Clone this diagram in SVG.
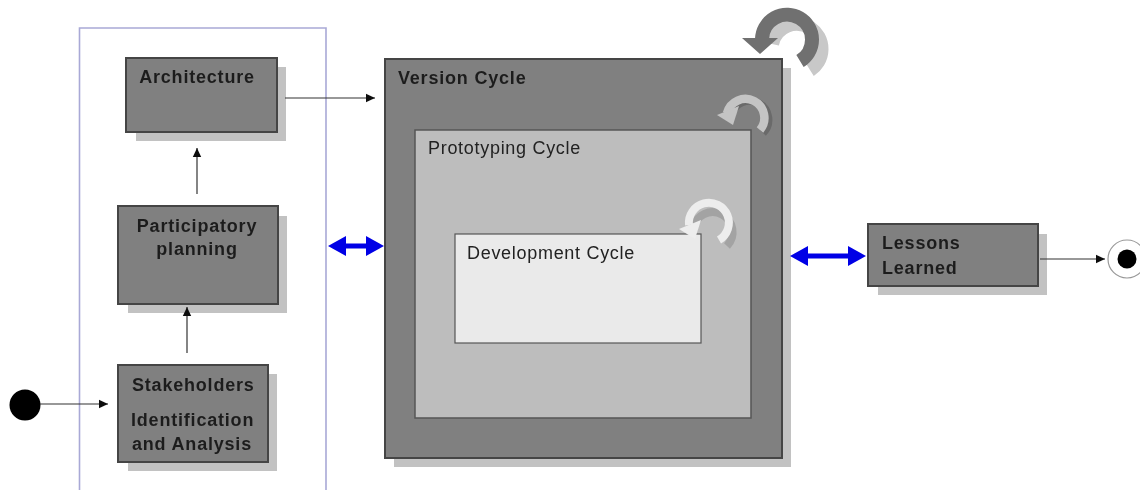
<svg xmlns="http://www.w3.org/2000/svg" width="1140" height="490" viewBox="0 0 1140 490">
<style>
.dark{fill:#808080;stroke:#444;stroke-width:2}
.mid{fill:#bdbdbd;stroke:#555;stroke-width:1.5}
.light{fill:#eaeaea;stroke:#555;stroke-width:1.2}
.sh{fill:#c2c2c2}
text{font-family:"Liberation Sans",Arial,sans-serif;font-size:18px;fill:#222}
.b{font-weight:bold;fill:#1e1e1e;letter-spacing:.8px}
.m{letter-spacing:.7px}
.c{text-anchor:middle}
.line{fill:none;stroke:#333;stroke-width:1.2}
.blue{fill:none;stroke:#0000e6;stroke-width:5}
</style>
<defs>
<filter id="soft" x="-2%" y="-2%" width="104%" height="104%"><feGaussianBlur stdDeviation="0.7"/></filter>
<marker id="ah" markerUnits="userSpaceOnUse" markerWidth="10" markerHeight="10" refX="9" refY="5" orient="auto"><path d="M0 0.8L9 5L0 9.2z" fill="#111"/></marker>
<marker id="bh" markerUnits="userSpaceOnUse" markerWidth="20" markerHeight="22" refX="8" refY="11" orient="auto-start-reverse"><path d="M0 1L18 11L0 21z" fill="#0000e6"/></marker>
</defs>
<rect width="1140" height="490" fill="#fff"/>
<g filter="url(#soft)">
<path id="swimlane" d="M79.500 490V28H326V490" fill="none" stroke="#a9a9d6" stroke-width="1.600"/>
<g id="version-cycle">
<rect class="sh" x="394" y="68" width="397" height="399"/>
<rect class="dark" x="385" y="59" width="397" height="399"/>
<text class="b" x="398" y="84">Version Cycle</text>
</g>
<g id="version-cycle-loop">
<path d="M772 44A25 25 0 1 1 810 70" fill="none" stroke="#c8c8c8" stroke-width="14"/>
<path d="M762 39A25 25 0 1 1 800 61" fill="none" stroke="#6f6f6f" stroke-width="14"/>
<path d="M742 38L778 38L760 54z" fill="#6f6f6f"/>
</g>
<g id="prototyping-cycle">
<rect class="mid" x="415" y="130" width="336" height="288"/>
<text class="m" x="428" y="154">Prototyping Cycle</text>
</g>
<g id="prototyping-cycle-loop">
<path d="M731 115A19 19 0 1 1 763 133" fill="none" stroke="#6a6a6a" stroke-width="8"/>
<path d="M727 113A19 19 0 1 1 760 130" fill="none" stroke="#c4c4c4" stroke-width="8.500"/>
<path d="M717 115L739 106L733 125z" fill="#c4c4c4"/>
</g>
<g id="development-cycle">
<rect class="light" x="455" y="234" width="246" height="109"/>
<text class="m" x="467" y="259">Development Cycle</text>
</g>
<g id="development-cycle-loop">
<path d="M693 228A20 20 0 1 1 727 246" fill="none" stroke="#a3a3a3" stroke-width="8"/>
<path d="M689 225A20 20 0 1 1 719 240" fill="none" stroke="#ededed" stroke-width="8"/>
<path d="M679 229L701 220L695 239z" fill="#ededed"/>
</g>
<g id="architecture">
<rect class="sh" x="136" y="67" width="150" height="74"/>
<rect class="dark" x="126" y="58" width="151" height="74"/>
<text class="b c" x="197" y="83">Architecture</text>
</g>
<g id="participatory-planning">
<rect class="sh" x="128" y="216" width="159" height="97"/>
<rect class="dark" x="118" y="206" width="160" height="98"/>
<text class="b c" x="197" y="232">Participatory</text>
<text class="b c" x="197" y="255">planning</text>
</g>
<g id="stakeholders">
<rect class="sh" x="128" y="374" width="149" height="97"/>
<rect class="dark" x="118" y="365" width="150" height="97"/>
<text class="b" x="132" y="391">Stakeholders</text>
<text class="b" x="131" y="426">Identification</text>
<text class="b" x="132" y="450">and Analysis</text>
</g>
<g id="lessons-learned">
<rect class="sh" x="878" y="234" width="169" height="61"/>
<rect class="dark" x="868" y="224" width="170" height="62"/>
<text class="b" x="882" y="249">Lessons</text>
<text class="b" x="882" y="274">Learned</text>
</g>
<g id="start"><circle cx="25" cy="405" r="15.500" fill="#000"/></g>
<g id="end">
<circle cx="1127" cy="259" r="19" fill="#fff" stroke="#999" stroke-width="1.200"/>
<circle cx="1127" cy="259" r="9.500" fill="#000"/>
</g>
<g id="connectors">
<line class="line" x1="40" y1="404" x2="108" y2="404" marker-end="url(#ah)"/>
<line class="line" x1="187" y1="353" x2="187" y2="307" marker-end="url(#ah)"/>
<line class="line" x1="197" y1="194" x2="197" y2="148" marker-end="url(#ah)"/>
<line class="line" x1="285" y1="98" x2="375" y2="98" marker-end="url(#ah)"/>
<line class="line" x1="1040" y1="259" x2="1105" y2="259" marker-end="url(#ah)"/>
<line class="blue" x1="338" y1="246" x2="374" y2="246" marker-start="url(#bh)" marker-end="url(#bh)"/>
<line class="blue" x1="800" y1="256" x2="856" y2="256" marker-start="url(#bh)" marker-end="url(#bh)"/>
</g>
</g>
</svg>
